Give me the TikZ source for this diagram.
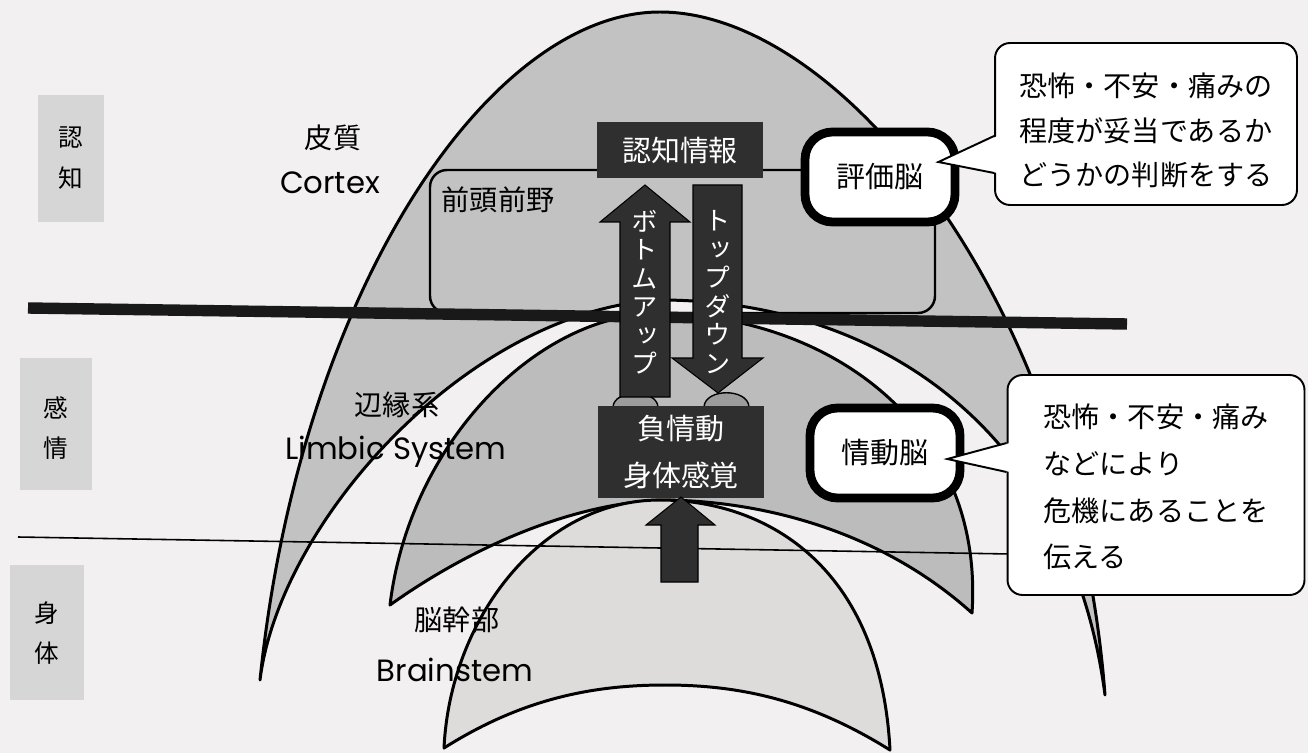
\documentclass[tikz,border=0pt]{standalone}
\usepackage{fontspec}
\setmainfont{Noto Sans CJK JP}
\newfontfamily\vertfont[RawFeature=+vert]{Noto Sans CJK JP}
\newfontfamily\latinfont{Poppins}

\definecolor{paper}{HTML}{F2F0F0}
\definecolor{cortexgray}{HTML}{C2C2C2}
\definecolor{limbicgray}{HTML}{BCBCBC}
\definecolor{stemgray}{HTML}{DEDBDB}
\definecolor{taggray}{HTML}{D6D6D6}
\definecolor{boxgray}{HTML}{2F2F2F}
\definecolor{bumpgray}{HTML}{9C9C9C}

\begin{document}
\begin{tikzpicture}[x=0.02cm, y=-0.02cm,
    every node/.style={inner sep=0pt, font=\fontsize{16}{20}\selectfont},
    rim/.style={draw=black, line width=1.7pt, line join=round},
    darkbox/.style={fill=boxgray, text=white, minimum width=3.32cm},
    brainbox/.style={draw=black, fill=white, line width=5pt, rounded corners=0.55cm,
                     minimum width=3.0cm, minimum height=1.8cm, font=\fontsize{16.5}{20}\selectfont},
    notebox/.style={draw=black, fill=white, line width=1.1pt, rounded corners=0.3cm},
    notetext/.style={align=left},
    tag/.style={align=center, font=\fontsize{14}{23}\selectfont},
    latin/.style={font=\latinfont\fontsize{17.5}{20}\selectfont},
    vtext/.style={align=center, text=white, font=\vertfont\fontsize{15}{16.2}\selectfont},
    fatarrow/.style={fill=boxgray, draw=black, line width=0.6pt},
  ]
  \useasboundingbox (0,0) rectangle (1308,753);
  \fill[paper] (0,0) rectangle (1308,753);

  % level tags
  \fill[taggray] (38,95) rectangle (104,222);
  \fill[taggray] (20,358) rectangle (92,490);
  \fill[taggray] (10,565) rectangle (84,700);
  \node[tag] (tagcog) at (71,158) {認\\知};
  \node[tag] (tagemo) at (56,428) {感\\情};
  \node[tag] (tagbody) at (47,633) {身\\体};

  % cortex
  \draw[rim, fill=cortexgray] (260,680) .. controls (300,290) and (490,12) .. (660,12)
    .. controls (840,12) and (1075,300) .. (1105,695)
    .. controls (1070,430) and (880,300) .. (660,300)
    .. controls (470,310) and (280,520) .. (260,680) -- cycle;

  % limbic system
  \draw[rim, fill=limbicgray] (390,605) .. controls (410,440) and (540,314) .. (655,314)
    .. controls (820,312) and (985,420) .. (972,613)
    .. controls (880,530) and (760,500) .. (660,500)
    .. controls (560,505) and (460,555) .. (390,605) -- cycle;

  % brainstem
  \draw[rim, fill=stemgray] (444,748) .. controls (450,620) and (540,500) .. (660,500)
    .. controls (760,500) and (880,560) .. (890,750)
    .. controls (810,700) and (740,685) .. (665,685)
    .. controls (590,685) and (520,700) .. (444,748) -- cycle;

  % prefrontal area
  \draw[draw=black, line width=1.4pt, rounded corners=0.34cm] (430,170) rectangle (935,313);
  \node (pfc) at (498,200) {前頭前野};

  % level borders
  \draw[line width=0.9pt] (18,537) -- (1010,554);
  \draw[line width=6.5pt, black!90] (28,308) -- (1127,324);

  % bumps under the arrows
  \draw[line width=0.8pt, fill=bumpgray] (613,407) .. controls (614,389) and (657,389) .. (658,407) -- cycle;
  \draw[line width=0.8pt, fill=bumpgray] (704,407) .. controls (705,388) and (748,388) .. (749,407) -- cycle;

  % bottom-up and top-down arrows
  \draw[fatarrow] (620,397) -- (620,222) -- (600,222) -- (645,185) -- (690,222)
    -- (670,222) -- (670,397) -- cycle;
  \draw[fatarrow] (693,185) -- (693,358) -- (672,358) -- (718,393) -- (763,358)
    -- (742,358) -- (742,185) -- cycle;
  \node[vtext] (bottomup) at (645,292) {ボ\\ト\\ム\\ア\\ッ\\プ};
  \node[vtext] (topdown) at (718,292) {ト\\ッ\\プ\\ダ\\ウ\\ン};

  % information boxes
  \node[darkbox, minimum height=1.12cm, font=\fontsize{16.5}{20}\selectfont] (cog) at (680,150) {認知情報};
  \node[darkbox, minimum height=1.86cm, align=center, font=\fontsize{16.5}{26.6}\selectfont]
    (neg) at (681,452) {負情動\\身体感覚};

  % arrow from the brainstem
  \draw[fatarrow] (661,582) -- (661,525) -- (646,525) -- (681,497) -- (715,525)
    -- (698,525) -- (698,582) -- cycle;

  % brain roles
  \node[brainbox] (evalbrain) at (880,177) {評価脳};
  \node[brainbox] (emobrain) at (885,453) {情動脳};

  % notes
  \node[notebox, minimum width=6.04cm, minimum height=3.24cm] (note1) at (1146,124) {};
  \node[notebox, minimum width=5.94cm, minimum height=4.4cm] (note2) at (1156,485) {};
  \node[notetext, font=\fontsize{16}{25.5}\selectfont] (note1text) at ([yshift=-0.13cm]note1.center)
    {恐怖・不安・痛みの\\程度が妥当であるか\\どうかの判断をする};
  \node[notetext, font=\fontsize{16}{26.5}\selectfont] (note2text) at ([yshift=-0.04cm]note2.center)
    {恐怖・不安・痛み\\などにより\\危機にあることを\\伝える};
  \coordinate (tip1) at ([xshift=-0.42cm, yshift=0.3cm]evalbrain.east);
  \coordinate (tip2) at ([xshift=-0.34cm, yshift=-0.12cm]emobrain.east);
  \fill[white] ([xshift=2pt, yshift=-0.24cm]note1.west) -- (tip1) -- ([xshift=2pt, yshift=-0.98cm]note1.west) -- cycle;
  \draw[line width=1.1pt] ([yshift=-0.24cm]note1.west) -- (tip1) -- ([yshift=-0.98cm]note1.west);
  \fill[white] ([xshift=2pt, yshift=0.84cm]note2.west) -- (tip2) -- ([xshift=2pt, yshift=0.26cm]note2.west) -- cycle;
  \draw[line width=1.1pt] ([yshift=0.84cm]note2.west) -- (tip2) -- ([yshift=0.26cm]note2.west);

  % region names
  \node (cortexjp) at (333,138) {皮質};
  \node[latin] (cortexen) at (330,183) {Cortex};
  \node (limbicjp) at (397,405) {辺縁系};
  \node[latin] (limbicen) at (396,452) {Limbic System};
  \node (stemjp) at (457,620) {脳幹部};
  \node[latin] (stemen) at (455,670) {Brainstem};
\end{tikzpicture}
\end{document}
